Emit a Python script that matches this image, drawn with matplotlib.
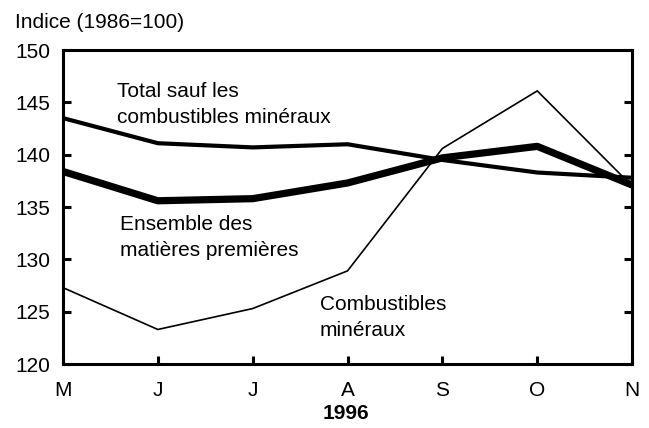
import matplotlib.pyplot as plt

plt.rcParams['font.family'] = ['Liberation Sans', 'DejaVu Sans']

mois = ["M", "J", "J", "A", "S", "O", "N"]
combustibles = [127.3, 123.3, 125.3, 128.9, 140.6, 146.1, 137.0]
total_sauf = [143.5, 141.1, 140.7, 141.0, 139.5, 138.3, 137.8]
ensemble = [138.4, 135.6, 135.8, 137.3, 139.7, 140.8, 137.1]

fs = 15

fig = plt.figure(figsize=(6.49, 4.28), dpi=100)
ax = fig.add_axes([0.097, 0.1495, 0.877, 0.7335])
x = range(len(mois))

ax.plot(x, combustibles, color="black", lw=1.2, solid_joinstyle="miter")
ax.plot(x, total_sauf, color="black", lw=3.0)
ax.plot(x, ensemble, color="black", lw=5.2)

ax.set_xlim(0, len(mois) - 1)
ax.set_ylim(120, 150)
ax.set_xticks(list(x))
ax.set_xticklabels(mois)
ax.set_yticks([120, 125, 130, 135, 140, 145, 150])

for s in ax.spines.values():
    s.set_linewidth(2.2)
ax.tick_params(direction="in", length=6, width=2.2, labelsize=fs, right=True)
ax.tick_params(axis="x", pad=12)
ax.tick_params(axis="y", pad=9)

ax.text(0.57, 146.95, "Total sauf les\ncombustibles minéraux", fontsize=fs,
        va="top", linespacing=1.45)
ax.text(0.6, 134.25, "Ensemble des\nmatières premières", fontsize=fs,
        va="top", linespacing=1.45)
ax.text(2.71, 126.55, "Combustibles\nminéraux", fontsize=fs,
        va="top", linespacing=1.45)

fig.text(0.023, 0.948, "Indice (1986=100)", fontsize=fs, va="center")
fig.text(0.533, 0.035, "1996", fontsize=fs, fontweight="bold",
         ha="center", va="center")

fig.savefig("out.png", dpi=100)
